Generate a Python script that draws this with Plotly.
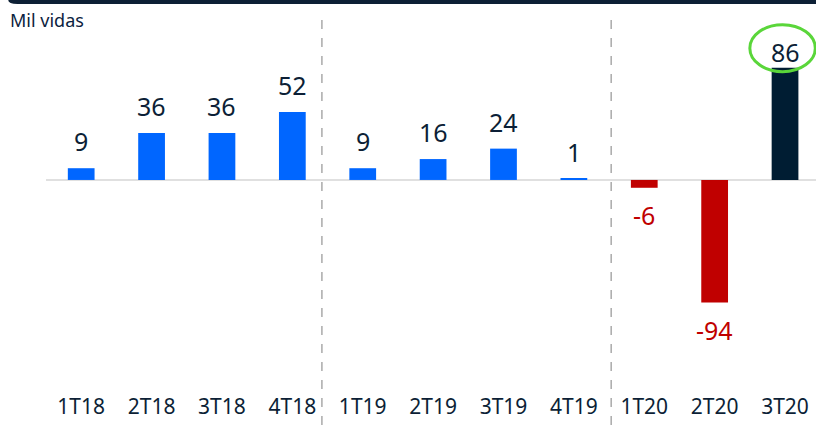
import plotly.graph_objects as go

quarters = ["1T18", "2T18", "3T18", "4T18", "1T19", "2T19", "3T19", "4T19", "1T20", "2T20", "3T20"]
values = [9, 36, 36, 52, 9, 16, 24, 1, -6, -94, 86]
bar_colors = ["#0066ff"] * 8 + ["#c00000", "#c00000", "#001d33"]
label_colors = ["#0c1f36"] * 8 + ["#c00000", "#c00000", "#0c1f36"]
separators = [3.42, 7.53]

fig = go.Figure()

fig.add_trace(go.Bar(
    x=quarters,
    y=values,
    marker=dict(color=bar_colors, line=dict(width=0)),
    hoverinfo="x+y",
))

## value labels above positive bars, below negative ones
for q, v, c in zip(quarters, values, label_colors):
    shift = 27 if v > 0 else -27
    if q == quarters[-1]:
        shift = 16  # highlighted label sits closer to its bar
    fig.add_annotation(
        x=q, y=v, text=str(v), showarrow=False, yshift=shift,
        font=dict(size=25, color=c, family="Noto Sans"),
    )

## dashed separators between years
for s in separators:
    fig.add_shape(type="line", xref="x", yref="paper", x0=s, x1=s, y0=1 - 20 / 392, y1=-0.1,
                  line=dict(color="#aaaaaa", width=1.5, dash="dash"))

## green highlight round the last value
fig.add_shape(type="circle", xref="x", yref="y", x0=9.5, x1=10.43, y0=83, y1=119,
              line=dict(color="#5ad63a", width=3))

## dark band across the top
fig.add_shape(type="path", xref="paper", yref="paper",
              path="M -0.049,1.0 L 1.0,1.0 L 1.0,0.99 L -0.037,0.99 Q -0.049,0.99 -0.049,1.0 Z",
              fillcolor="#0d2035", line=dict(width=0))

fig.add_annotation(x=-0.05, y=1 - 20 / 392, xref="paper", yref="paper", text="Mil vidas",
                   showarrow=False, xanchor="left", yanchor="middle",
                   font=dict(size=18, color="#0c2340", family="Noto Sans"))

fig.update_layout(
    width=816, height=427,
    margin=dict(l=46, r=0, t=0, b=35, pad=0),
    plot_bgcolor="white", paper_bgcolor="white",
    showlegend=False,
    bargap=0.62,
    xaxis=dict(range=[-0.5, 10.44], showgrid=False, showline=False, ticks="",
               tickfont=dict(size=21, color="#0c1f36", family="Noto Sans")),
    yaxis=dict(range=[-162.5, 137.9], showgrid=False, showticklabels=False,
               zeroline=True, zerolinecolor="#e0e0e0", zerolinewidth=2),
)

fig.write_html("out.html", config={"displayModeBar": False},
               post_script="document.body.style.margin='0px';")
